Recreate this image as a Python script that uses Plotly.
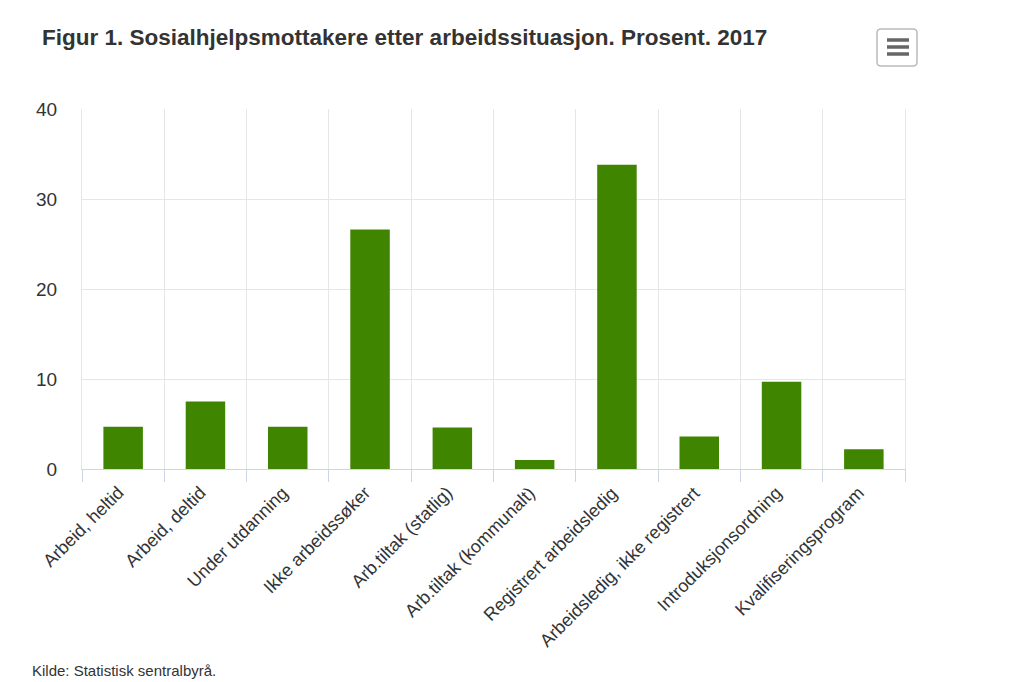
import plotly.graph_objects as go

# categories and values (percent, 2017)
kategorier = [
    "Arbeid, heltid",
    "Arbeid, deltid",
    "Under utdanning",
    "Ikke arbeidssøker",
    "Arb.tiltak (statlig)",
    "Arb.tiltak (kommunalt)",
    "Registrert arbeidsledig",
    "Arbeidsledig, ikke registrert",
    "Introduksjonsordning",
    "Kvalifiseringsprogram",
]
prosent = [4.7, 7.5, 4.7, 26.6, 4.6, 1.0, 33.8, 3.6, 9.7, 2.2]
y_ticks = [0, 10, 20, 30, 40]

FONT = "Liberation Sans, Arial, sans-serif"
GRID = "#e6e6e6"
AXIS = "#ccd6eb"

# the page puts the figure 8px in from the top-left corner
W, H = 1016, 674


def px(x):
    # page x pixel -> paper fraction of the plot area (82..905)
    return (x - 82) / 823


def py(y):
    # page y pixel -> paper fraction of the plot area (109..469)
    return (469 - y) / 360


fig = go.Figure()
fig.add_trace(go.Bar(
    x=kategorier,
    y=prosent,
    marker=dict(color="#3f8500", line=dict(width=0)),
    hoverinfo="x+y",
    showlegend=False,
))

fig.update_layout(
    width=W,
    height=H,
    margin=dict(l=74, r=119, t=101, b=213),
    plot_bgcolor="white",
    paper_bgcolor="white",
    bargap=0.52,
    font=dict(family=FONT, color="#333333"),
    title=dict(
        text="<b>Figur 1. Sosialhjelpsmottakere etter arbeidssituasjon. Prosent. 2017</b>",
        font=dict(size=22.5, color="#333333", family=FONT),
        x=34 / W, xanchor="left", xref="container",
        y=1 - 29 / H, yanchor="middle", yref="container",
    ),
)

fig.update_xaxes(
    type="category",
    range=[-0.5, len(kategorier) - 0.5],
    tickson="boundaries",
    showgrid=True, gridcolor=GRID, gridwidth=1,
    showline=True, linecolor=AXIS, linewidth=1,
    ticks="outside", ticklen=12, tickcolor=AXIS,
    showticklabels=False,
)
fig.update_yaxes(
    range=[0, 40],
    tickvals=y_ticks,
    showgrid=True, gridcolor=GRID, gridwidth=1,
    showline=True, mirror=True, linecolor=GRID, linewidth=1,
    zeroline=False,
    ticks="", ticklabelstandoff=20,
    tickfont=dict(size=19, color="#333333"),
)

# rotated category labels
for k in kategorier:
    fig.add_annotation(
        x=k, y=0, xref="x", yref="y",
        text=k, textangle=-45,
        xanchor="right", yanchor="top",
        xshift=7, yshift=-11,
        showarrow=False,
        font=dict(size=18, color="#333333", family=FONT),
    )

# source line
fig.add_annotation(
    text="Kilde: Statistisk sentralbyrå.",
    xref="paper", yref="paper",
    x=px(30), y=py(670),
    xanchor="left", yanchor="middle",
    showarrow=False,
    font=dict(size=15, color="#333333", family=FONT),
)

# menu button (decoration)
x0, x1, y0, y1, r = px(877), px(917), py(66), py(29), 4
rx, ry = r / 823, r / 360
fig.add_shape(
    type="path", xref="paper", yref="paper",
    path=(f"M {x0 + rx} {y0} L {x1 - rx} {y0} Q {x1} {y0} {x1} {y0 + ry} "
          f"L {x1} {y1 - ry} Q {x1} {y1} {x1 - rx} {y1} "
          f"L {x0 + rx} {y1} Q {x0} {y1} {x0} {y1 - ry} "
          f"L {x0} {y0 + ry} Q {x0} {y0} {x0 + rx} {y0} Z"),
    line=dict(color="#bbbbbb", width=1.5), fillcolor="white",
)
for yy in [40, 47, 54]:
    fig.add_shape(type="line", xref="paper", yref="paper",
                  x0=px(887), x1=px(909), y0=py(yy), y1=py(yy),
                  line=dict(color="#666666", width=3.5))

fig.write_html("out.html", config={"displayModeBar": False})
